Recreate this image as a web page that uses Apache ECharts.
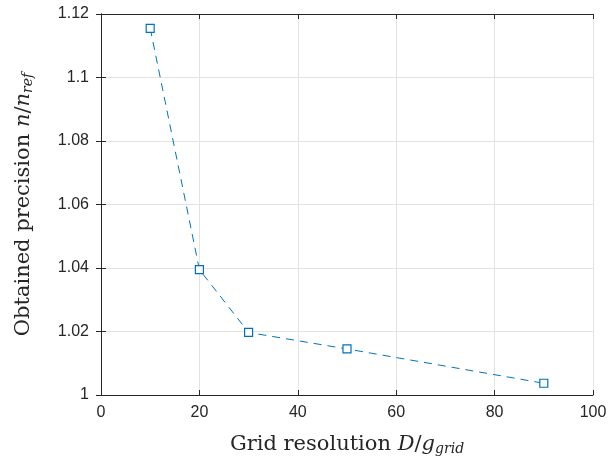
<!doctype html>
<html>
<head>
    <meta charset="utf-8">
    <title>Grid resolution</title>
    <style>
        html, body { margin: 0; padding: 0; background: #fff; }
        #chart { width: 610px; height: 466px; }
    </style>
</head>
<body>
<div id="chart"></div>
<script src="https://cdn.jsdelivr.net/npm/echarts@6/dist/echarts.min.js"></script>
<script>
    // data
    var resolution = [10, 20, 30, 50, 90];
    var precision = [1.1155, 1.0395, 1.0197, 1.0145, 1.0037];

    var axisColor = '#262626';
    var lineColor = '#0072BD';
    var serif = '"DejaVu Serif", "Liberation Serif", serif';
    var sans = '"Liberation Sans", "DejaVu Sans", sans-serif';

    var mathRich = {
        i: { fontFamily: serif, fontStyle: 'italic', fontSize: 21, color: axisColor },
        sub: { fontFamily: serif, fontStyle: 'italic', fontSize: 14, color: axisColor, verticalAlign: 'bottom', padding: [9, 0, 0, 0] }
    };

    var chart = echarts.init(document.getElementById('chart'));
    var option = {
        animation: false,
        grid: { left: 101, right: 17, top: 14, bottom: 71 },
        xAxis: [{
            type: 'value',
            min: 0, max: 100, interval: 20,
            name: 'Grid resolution {i|D}/{i|g}{sub|grid}',
            nameLocation: 'middle',
            nameGap: 38,
            nameTextStyle: { fontFamily: serif, fontSize: 21, color: axisColor, rich: mathRich },
            axisLine: { show: true, lineStyle: { color: axisColor, width: 1 } },
            axisTick: { show: true, inside: true, length: 5, lineStyle: { color: axisColor } },
            axisLabel: { fontFamily: sans, fontSize: 16, color: axisColor, margin: 10 },
            splitLine: { show: true, lineStyle: { color: '#e3e3e3', width: 1 } }
        }, {
            type: 'value', position: 'top',
            min: 0, max: 100, interval: 20,
            axisLine: { show: true, lineStyle: { color: axisColor, width: 1 } },
            axisTick: { show: true, inside: true, length: 5, lineStyle: { color: axisColor } },
            axisLabel: { show: false },
            splitLine: { show: false }
        }],
        yAxis: [{
            type: 'value',
            min: 1, max: 1.12, interval: 0.02,
            name: 'Obtained precision {i|n}/{i|n}{sub|ref}',
            nameLocation: 'middle',
            nameGap: 66,
            nameTextStyle: { fontFamily: serif, fontSize: 21, color: axisColor, rich: mathRich },
            axisLine: { show: true, lineStyle: { color: axisColor, width: 1 } },
            axisTick: { show: true, inside: true, length: 5, lineStyle: { color: axisColor } },
            axisLabel: {
                fontFamily: sans, fontSize: 16, color: axisColor, margin: 12,
                formatter: function (v) { return String(parseFloat(v.toFixed(2))); }
            },
            splitLine: { show: true, lineStyle: { color: '#e3e3e3', width: 1 } }
        }, {
            type: 'value', position: 'right',
            min: 1, max: 1.12, interval: 0.02,
            axisLine: { show: true, lineStyle: { color: axisColor, width: 1 } },
            axisTick: { show: true, inside: true, length: 5, lineStyle: { color: axisColor } },
            axisLabel: { show: false },
            splitLine: { show: false }
        }],
        series: [{
            type: 'line',
            data: resolution.map(function (x, i) { return [x, precision[i]]; }),
            symbol: 'rect',
            symbolSize: 8,
            showAllSymbol: true,
            lineStyle: { color: lineColor, width: 1, type: [8, 6] },
            itemStyle: { color: '#fff', borderColor: lineColor, borderWidth: 1.2 }
        }]
    };
    chart.setOption(option);
</script>
</body>
</html>
